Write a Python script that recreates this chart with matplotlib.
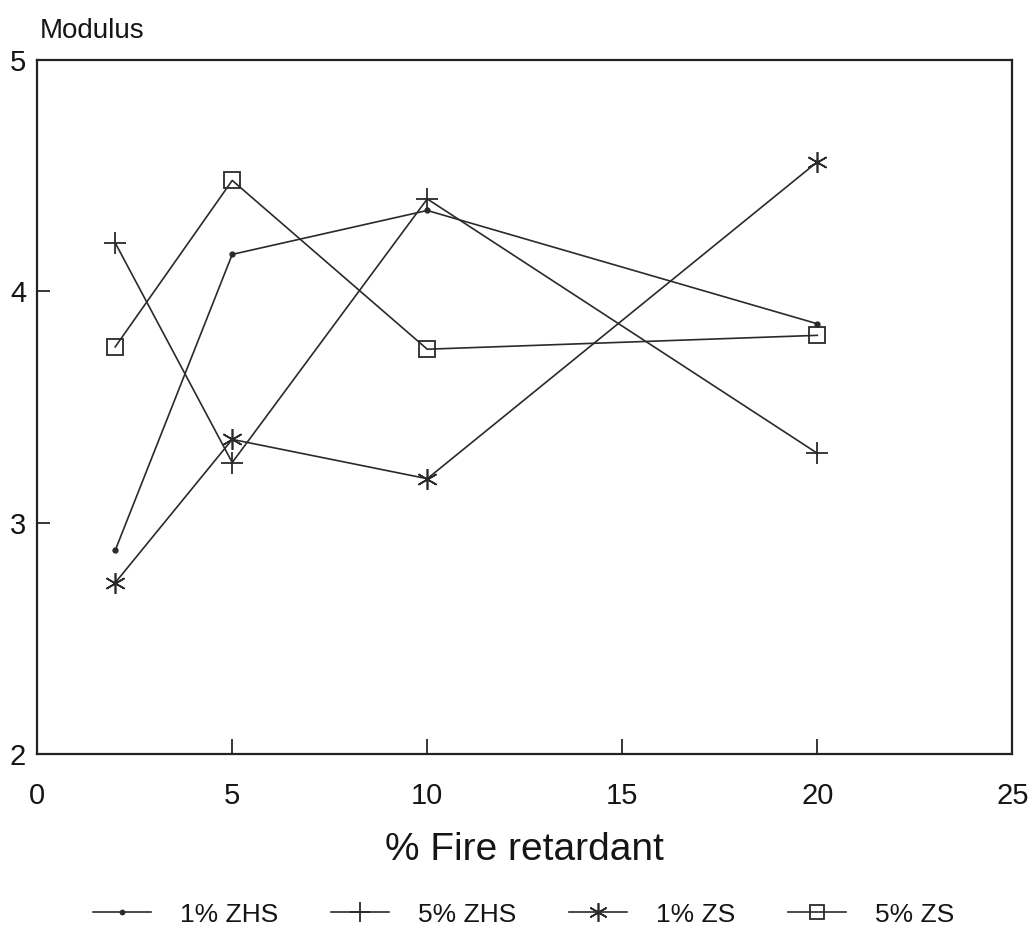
#!/usr/bin/env python3
# -*- coding: utf-8 -*-
'''
Modulus vs fire retardant loading
'''
import sys
import matplotlib
matplotlib.use('Agg')
import matplotlib.pyplot as plt

#************************************
# Data
#************************************
retardant = [2, 5, 10, 20]
zhs1 = [2.88, 4.16, 4.35, 3.86]
zhs5 = [4.21, 3.26, 4.40, 3.30]
zs1 = [2.74, 3.36, 3.19, 4.56]
zs5 = [3.76, 4.48, 3.75, 3.81]
labels = ['1% ZHS', '5% ZHS', '1% ZS', '5% ZS']
xticks = [0, 5, 10, 15, 20, 25]
yticks = [2, 3, 4, 5]

#************************************
# Plot
#************************************
def main():
    plt.rcParams['font.family'] = ['Liberation Sans', 'DejaVu Sans']
    fig = plt.figure(figsize=(10.33, 9.4), dpi=100)
    ax = fig.add_axes([0.036, 0.198, 0.944, 0.738])

    lc = '#2a2a2a'
    tc = '#151515'
    star = (6, 2, 0)
    ax.plot(retardant, zhs1, color=lc, lw=1.2, marker='o', ms=3.5,
            mfc=lc, mec=lc, label=labels[0])
    ax.plot(retardant, zhs5, color=lc, lw=1.2, marker='+', ms=16,
            mew=1.3, label=labels[1])
    ax.plot(retardant, zs1, color=lc, lw=1.2, marker=star, ms=15,
            mew=1.2, label=labels[2])
    ax.plot(retardant, zs5, color=lc, lw=1.2, marker='s', ms=11,
            mfc='none', mec=lc, mew=1.3, label=labels[3])

    ax.set_xlim(0, 25)
    ax.set_ylim(2, 5)
    ax.set_xticks(xticks)
    ax.set_yticks(yticks)
    ax.tick_params(axis='x', direction='in', length=11, width=1.2,
                   pad=20, labelsize=21, colors=tc)
    ax.tick_params(axis='y', direction='in', length=9, width=1.2,
                   pad=8, labelsize=21, colors=tc)
    for s in ax.spines.values():
        s.set_linewidth(1.6)
        s.set_color('#222222')

    ax.set_xlabel('% Fire retardant', fontsize=28, color=tc,
                  labelpad=16)
    fig.text(40/1033, 1-38/940, 'Modulus', fontsize=20, color=tc,
             ha='left', va='baseline')

    fig.legend(loc='center', bbox_to_anchor=(0.507, 0.027), ncol=4,
               frameon=False, fontsize=19, handlelength=2.2,
               handletextpad=1.1, columnspacing=2.0, markerscale=0.9,
               labelcolor=tc)

    fig.savefig('out.png', dpi=100, facecolor='white')
    plt.close(fig)

#************************************
# Main initialization routine
#************************************
if __name__ == "__main__":
    sys.exit(main())
